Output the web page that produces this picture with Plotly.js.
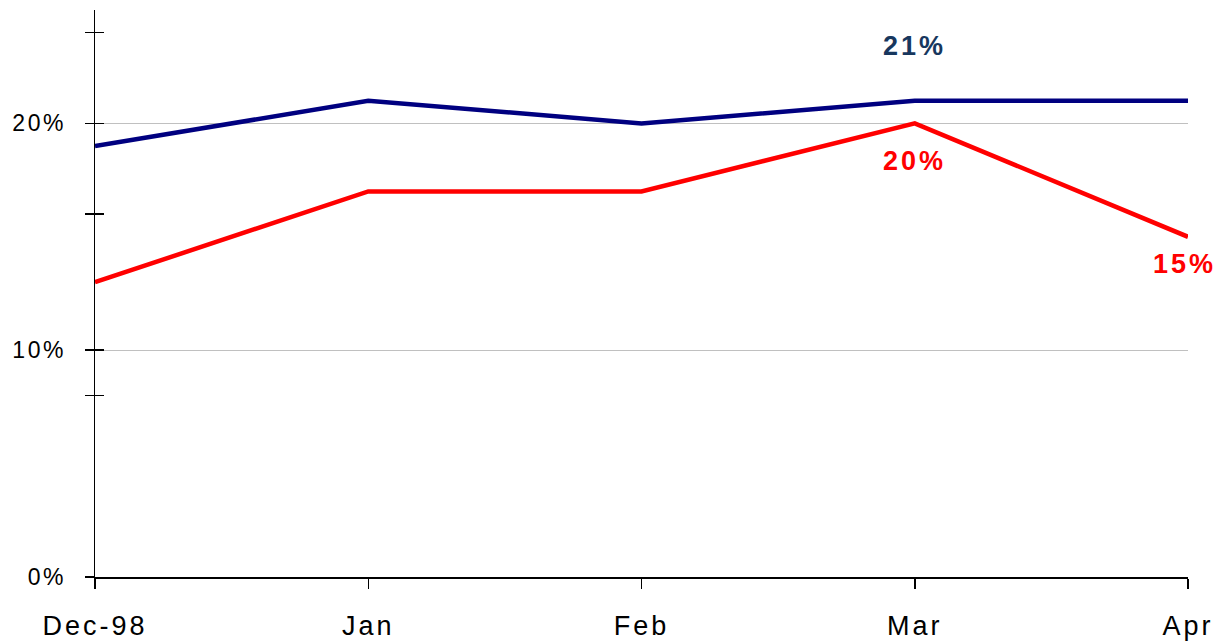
<!DOCTYPE html>
<html>
<head>
<meta charset="utf-8">
<script src="https://cdn.plot.ly/plotly-3.0.1.min.js"></script>
<style>
html,body{margin:0;padding:0;background:#fff;}
#chart{width:1218px;height:643px;}
.xtick text{letter-spacing:3px;}
.ytick text{letter-spacing:2.5px;}
.annotation-text{letter-spacing:3px;}
</style>
</head>
<body>
<div id="chart"></div>
<script>
var months = ['Dec-98', 'Jan', 'Feb', 'Mar', 'Apr'];
var blueSeries = [19, 21, 20, 21, 21];
var redSeries = [13, 17, 17, 20, 15];
var yMajorVals = [0, 10, 20];
var yMajorText = ['0%', '10%', '20%'];
var yMinorVals = [8, 16, 24];
var yAllTickVals = [0, 8, 10, 16, 20, 24];

var traces = [
  {x: months, y: blueSeries, type: 'scatter', mode: 'lines', yaxis: 'y',
   line: {color: '#000080', width: 4.5}, hoverinfo: 'skip'},
  {x: months, y: redSeries, type: 'scatter', mode: 'lines', yaxis: 'y2',
   line: {color: '#ff0000', width: 4.5}, hoverinfo: 'skip'}
];

var layout = {
  width: 1218, height: 643,
  margin: {l: 95, r: 30, t: 10, b: 66},
  paper_bgcolor: '#fff', plot_bgcolor: '#fff',
  showlegend: false,
  font: {family: 'Liberation Sans, Arial, sans-serif', color: '#000'},
  xaxis: {
    type: 'category', range: [0, 4],
    showline: true, linecolor: '#000', linewidth: 1.5,
    ticks: 'outside', ticklen: 10, tickcolor: '#000', tickwidth: 1.5,
    tickfont: {size: 27, color: '#000'}, ticklabelstandoff: 14,
    showgrid: false, zeroline: false, fixedrange: true
  },
  yaxis: {
    range: [0, 25],
    showline: true, linecolor: '#000', linewidth: 1.5,
    tickmode: 'array', tickvals: yMajorVals, ticktext: yMajorText,
    ticks: 'outside', ticklen: 9, tickcolor: '#000', tickwidth: 1.5,
    tickfont: {size: 23, color: '#000'}, ticklabelstandoff: 14,
    showgrid: true, gridcolor: '#c0c0c0', gridwidth: 1.3,
    minor: {tickmode: 'array', tickvals: yMinorVals, ticks: 'outside', ticklen: 9,
            tickcolor: '#000', tickwidth: 1.5, showgrid: false},
    zeroline: false, fixedrange: true
  },
  yaxis2: {
    overlaying: 'y', side: 'left', range: [0, 25],
    tickmode: 'array', tickvals: yAllTickVals, showticklabels: false,
    ticks: 'inside', ticklen: 9, tickcolor: '#000', tickwidth: 1.5,
    showline: false, showgrid: false, zeroline: false, fixedrange: true
  },
  annotations: [
    {x: months[3], y: blueSeries[3], xref: 'x', yref: 'y', text: blueSeries[3] + '%',
     showarrow: false, yshift: 55, font: {size: 27, color: '#17375e', family: 'Liberation Sans, Arial, sans-serif', weight: 'bold'}},
    {x: months[3], y: redSeries[3], xref: 'x', yref: 'y', text: redSeries[3] + '%',
     showarrow: false, yshift: -38, font: {size: 27, color: '#ff0000', family: 'Liberation Sans, Arial, sans-serif', weight: 'bold'}},
    {x: months[4], y: redSeries[4], xref: 'x', yref: 'y', text: redSeries[4] + '%',
     showarrow: false, yshift: -27, xshift: -4, font: {size: 27, color: '#ff0000', family: 'Liberation Sans, Arial, sans-serif', weight: 'bold'}}
  ]
};

Plotly.newPlot('chart', traces, layout, {staticPlot: true, displayModeBar: false});
</script>
</body>
</html>
